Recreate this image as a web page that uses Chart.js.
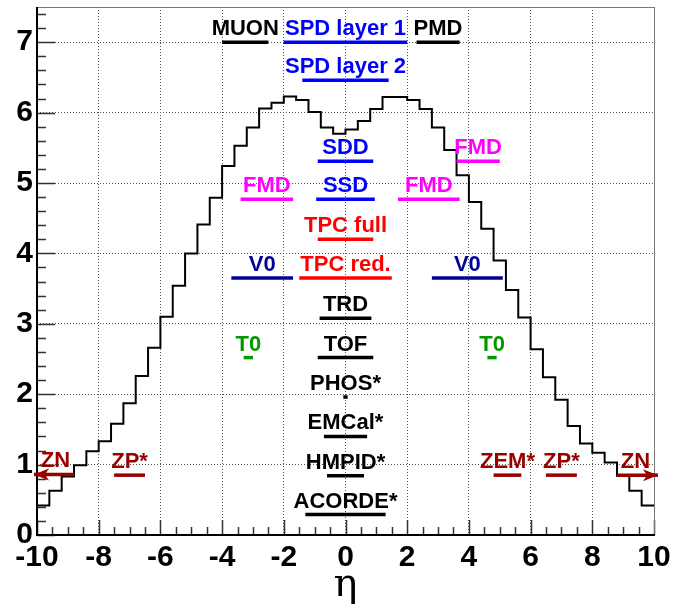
<!DOCTYPE html>
<html>
<head>
<meta charset="utf-8">
<title>ALICE detector acceptance vs dN/d&eta;</title>
<script src="https://cdn.jsdelivr.net/npm/chart.js@4.4.0/dist/chart.umd.min.js"></script>
<style>
    html, body { margin: 0; padding: 0; background: #fff; }
    #wrap { width: 679px; height: 608px; }
</style>
</head>
<body>
<div id="wrap"><canvas id="etaChart" width="679" height="608"></canvas></div>
<script>
// ========== Data ==========
// histogram bin edges (eta) and bin contents (dN/deta)
const etaEdges = [
    -10, -9.6, -9.2, -8.8, -8.4, -8.0, -7.6, -7.2, -6.8, -6.4,
    -6.0, -5.6, -5.2, -4.8, -4.4, -4.0, -3.6, -3.2, -2.8, -2.4,
    -2.0, -1.6, -1.2, -0.8, -0.4, 0, 0.4, 0.8, 1.2, 1.6,
    2.0, 2.4, 2.8, 3.2, 3.6, 4.0, 4.4, 4.8, 5.2, 5.6,
    6.0, 6.4, 6.8, 7.2, 7.6, 8.0, 8.4, 8.8, 9.2, 9.6, 10
];
const dNdEta = [
    0.42, 0.63, 0.83, 0.99, 1.19, 1.33, 1.58, 1.87, 2.26, 2.66,
    3.10, 3.54, 4.00, 4.41, 4.79, 5.24, 5.53, 5.79, 6.06, 6.14,
    6.23, 6.18, 6.01, 5.79, 5.70, 5.76, 5.88, 6.05, 6.22, 6.22,
    6.18, 6.05, 5.79, 5.47, 5.11, 4.73, 4.35, 3.90, 3.48, 3.09,
    2.64, 2.24, 1.92, 1.55, 1.30, 1.17, 1.03, 0.84, 0.63, 0.42
];

// detector coverage: name, eta range, height on the plot
const detNames  = ['MUON', 'SPD layer 1', 'PMD', 'SPD layer 2', 'SDD', 'FMD', 'SSD', 'FMD', 'FMD',
                   'TPC full', 'V0', 'TPC red.', 'V0', 'TRD', 'T0', 'TOF', 'T0', 'PHOS*', 'EMCal*',
                   'ZN', 'ZP*', 'HMPID*', 'ZEM*', 'ZP*', 'ZN', 'ACORDE*'];
const detEtaMin = [-4.0, -2.0, 2.3, -1.4, -0.9, 3.6, -0.95, -3.4, 1.7,
                   -0.9, -3.7, -1.5, 2.8, -0.84, -3.3, -0.9, 4.6, -0.07, -0.7,
                   -10, -7.5, -0.6, 4.8, 6.5, 8.8, -1.3];
const detEtaMax = [-2.5, 2.0, 3.7, 1.4, 0.9, 5.0, 0.95, -1.7, 3.7,
                   0.9, -1.7, 1.5, 5.1, 0.84, -3.0, 0.9, 4.9, 0.07, 0.7,
                   -8.8, -6.5, 0.6, 5.7, 7.5, 10, 1.3];
const detLevel  = [7.0, 7.0, 7.0, 6.46, 5.31, 5.31, 4.77, 4.77, 4.77,
                   4.20, 3.65, 3.65, 3.65, 3.08, 2.52, 2.52, 2.52, 1.96, 1.40,
                   0.86, 0.85, 0.84, 0.85, 0.85, 0.85, 0.29];

// ========== Styles ==========
const detColors = {
    'MUON': '#000000', 'PMD': '#000000', 'TRD': '#000000', 'TOF': '#000000',
    'PHOS*': '#000000', 'EMCal*': '#000000', 'HMPID*': '#000000', 'ACORDE*': '#000000',
    'SPD layer 1': '#0000ff', 'SPD layer 2': '#0000ff', 'SDD': '#0000ff', 'SSD': '#0000ff',
    'FMD': '#ff00ff',
    'TPC full': '#ff0000', 'TPC red.': '#ff0000',
    'V0': '#000099',
    'T0': '#009900',
    'ZN': '#990000', 'ZP*': '#990000', 'ZEM*': '#990000'
};
const FONT = '"Liberation Sans", Arial, sans-serif';

// ========== Plugins ==========
// ROOT-like frame with ticks pointing inside
const rootFrame = {
    id: 'rootFrame',
    beforeDatasetsDraw(chart) {
        const { ctx, chartArea: a, scales: { x, y } } = chart;
        ctx.save();
        ctx.strokeStyle = '#333';
        ctx.lineWidth = 1.5;
        ctx.beginPath();
        for (let i = 0; i <= 40; i++) {
            const v = x.min + i * 0.5;
            const px = Math.round(x.getPixelForValue(v)) + 0.5;
            const len = (i % 4 === 0) ? 15 : 8;
            ctx.moveTo(px, a.bottom);
            ctx.lineTo(px, a.bottom - len);
        }
        for (let i = 0; i * 0.2 <= y.max + 1e-9; i++) {
            const py = Math.round(y.getPixelForValue(i * 0.2)) + 0.5;
            const len = (i % 5 === 0) ? 18 : 9;
            ctx.moveTo(a.left, py);
            ctx.lineTo(a.left + len, py);
        }
        ctx.stroke();

        // top / right edges
        ctx.strokeStyle = '#777';
        ctx.lineWidth = 1;
        ctx.beginPath();
        ctx.moveTo(a.left, a.top + 0.5);
        ctx.lineTo(a.right + 0.5, a.top + 0.5);
        ctx.lineTo(a.right + 0.5, a.bottom);
        ctx.stroke();

        // axes
        ctx.strokeStyle = '#000';
        ctx.lineWidth = 2;
        ctx.beginPath();
        ctx.moveTo(a.left, a.top);
        ctx.lineTo(a.left, a.bottom);
        ctx.lineTo(a.right + 1, a.bottom);
        ctx.stroke();
        ctx.restore();
    }
};

// detector names above their coverage bars, arrows for ZN
const detectorLabels = {
    id: 'detectorLabels',
    afterDatasetsDraw(chart) {
        const { ctx, scales: { x, y } } = chart;
        ctx.save();
        ctx.font = 'bold 22px ' + FONT;
        ctx.textAlign = 'center';
        ctx.textBaseline = 'alphabetic';
        detNames.forEach((name, i) => {
            const x1 = x.getPixelForValue(detEtaMin[i]);
            const x2 = x.getPixelForValue(detEtaMax[i]);
            const py = y.getPixelForValue(detLevel[i]);
            ctx.fillStyle = detColors[name];
            ctx.fillText(name, (x1 + x2) / 2, py - 7);

            if (name === 'ZN') {
                const toLeft = detEtaMin[i] <= x.min;
                const tip = toLeft ? x1 - 3 : x2 + 4;
                const dir = toLeft ? 1 : -1;
                ctx.beginPath();
                ctx.moveTo(tip, py);
                ctx.lineTo(tip + dir * 15, py - 6);
                ctx.lineTo(tip + dir * 11, py);
                ctx.lineTo(tip + dir * 15, py + 6);
                ctx.closePath();
                ctx.fill();
                ctx.fillRect(Math.min(tip, tip + dir * 12), py - 1.75, 12, 3.5);
            }
        });
        ctx.restore();
    }
};

// ========== Chart ==========
function initChart() {
    const ctx = document.getElementById('etaChart');

    const histPoints = etaEdges.map((e, i) => ({ x: e, y: dNdEta[Math.min(i, dNdEta.length - 1)] }));

    const detDatasets = detNames.map((name, i) => ({
        label: name,
        data: [{ x: detEtaMin[i], y: detLevel[i] }, { x: detEtaMax[i], y: detLevel[i] }],
        borderColor: detColors[name],
        borderWidth: 3.5,
        borderCapStyle: 'butt',
        pointRadius: 0,
        clip: false,
        order: 1
    }));

    new Chart(ctx, {
        type: 'line',
        data: {
            datasets: [
                ...detDatasets,
                {
                    label: 'dN/deta',
                    data: histPoints,
                    stepped: true,
                    borderColor: '#000',
                    borderWidth: 2,
                    pointRadius: 0,
                    fill: false,
                    order: 10
                }
            ]
        },
        options: {
            responsive: false,
            animation: false,
            layout: { padding: { top: 7, right: 25, left: 0, bottom: 0 } },
            plugins: {
                legend: { display: false },
                tooltip: { enabled: false }
            },
            scales: {
                x: {
                    type: 'linear',
                    min: -10,
                    max: 10,
                    afterFit: (scale) => {
                        scale.height = 73;
                        scale.paddingLeft = 0;
                        scale.paddingRight = 0;
                    },
                    grid: { color: '#555', lineWidth: 1, drawTicks: false },
                    border: { display: false, dash: [1, 2] },
                    ticks: {
                        stepSize: 2,
                        autoSkip: false,
                        maxRotation: 0,
                        padding: 5,
                        color: '#000',
                        font: { family: FONT, size: 30, weight: 'bold' }
                    },
                    title: {
                        display: true,
                        text: 'η',
                        color: '#000',
                        font: { family: '"DejaVu Serif", "Liberation Serif", serif', size: 40, lineHeight: 1 },
                        padding: { top: 0, bottom: 2 }
                    }
                },
                y: {
                    min: 0,
                    max: 7.5,
                    afterFit: (scale) => {
                        scale.width = 37;
                        scale.paddingTop = 0;
                        scale.paddingBottom = 0;
                    },
                    grid: { color: '#555', lineWidth: 1, drawTicks: false },
                    border: { display: false, dash: [1, 2] },
                    ticks: {
                        stepSize: 1,
                        includeBounds: false,
                        padding: 4,
                        color: '#000',
                        font: { family: FONT, size: 30, weight: 'bold' }
                    }
                }
            }
        },
        plugins: [rootFrame, detectorLabels]
    });
}

document.addEventListener('DOMContentLoaded', initChart);
</script>
</body>
</html>
